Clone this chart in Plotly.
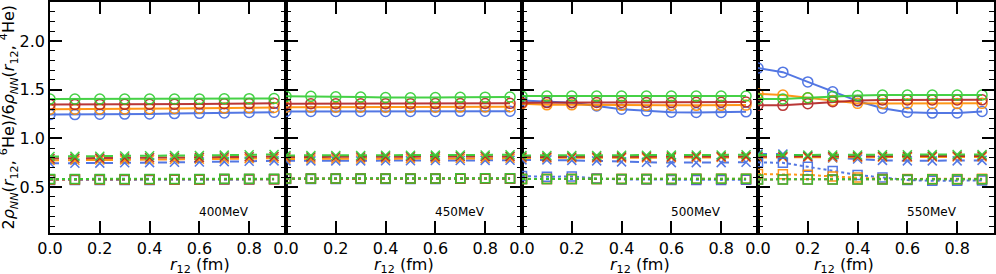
import plotly.graph_objects as go
from plotly.subplots import make_subplots

r12 = [0.0, 0.1, 0.2, 0.3, 0.4, 0.5, 0.6, 0.7, 0.8, 0.9]
energies = ["400MeV", "450MeV", "500MeV", "550MeV"]
colors = ["#4169E1", "#FF8C00", "#B22222", "#32CD32"]

# solid lines with circles, per energy: [blue, orange, red, green]
circ_400 = [
    [1.245, 1.245, 1.248, 1.25, 1.252, 1.255, 1.258, 1.262, 1.266, 1.27],
    [1.30, 1.30, 1.302, 1.303, 1.305, 1.307, 1.31, 1.312, 1.315, 1.318],
    [1.348, 1.348, 1.349, 1.35, 1.351, 1.352, 1.354, 1.356, 1.358, 1.36],
    [1.405, 1.405, 1.405, 1.405, 1.405, 1.405, 1.406, 1.407, 1.408, 1.41],
]
circ_450 = [
    [1.276, 1.276, 1.276, 1.276, 1.276, 1.276, 1.277, 1.278, 1.279, 1.28],
    [1.32, 1.32, 1.32, 1.32, 1.32, 1.32, 1.321, 1.322, 1.323, 1.325],
    [1.357, 1.357, 1.357, 1.357, 1.357, 1.357, 1.358, 1.358, 1.359, 1.36],
    [1.432, 1.432, 1.428, 1.425, 1.42, 1.418, 1.42, 1.422, 1.424, 1.425],
]
circ_500 = [
    [1.39, 1.375, 1.367, 1.333, 1.30, 1.283, 1.27, 1.267, 1.267, 1.273],
    [1.357, 1.345, 1.345, 1.342, 1.34, 1.34, 1.34, 1.34, 1.34, 1.342],
    [1.367, 1.368, 1.369, 1.37, 1.37, 1.37, 1.37, 1.371, 1.372, 1.373],
    [1.435, 1.435, 1.435, 1.435, 1.435, 1.435, 1.435, 1.435, 1.435, 1.436],
]
circ_550 = [
    [1.722, 1.68, 1.58, 1.479, 1.384, 1.31, 1.27, 1.26, 1.262, 1.276],
    [1.458, 1.445, 1.418, 1.39, 1.36, 1.358, 1.357, 1.357, 1.358, 1.36],
    [1.34, 1.34, 1.357, 1.377, 1.39, 1.394, 1.394, 1.395, 1.395, 1.396],
    [1.405, 1.405, 1.418, 1.43, 1.44, 1.445, 1.445, 1.445, 1.445, 1.446],
]

# dashed lines with crosses
cross_400 = [
    [0.745, 0.745, 0.747, 0.75, 0.752, 0.755, 0.758, 0.762, 0.766, 0.77],
    [0.775, 0.776, 0.778, 0.78, 0.782, 0.784, 0.787, 0.79, 0.793, 0.797],
    [0.795, 0.796, 0.798, 0.80, 0.802, 0.804, 0.806, 0.809, 0.812, 0.815],
    [0.815, 0.816, 0.818, 0.82, 0.822, 0.824, 0.826, 0.829, 0.832, 0.836],
]
cross_450 = [
    [0.77, 0.77, 0.77, 0.77, 0.771, 0.772, 0.773, 0.774, 0.775, 0.776],
    [0.79, 0.79, 0.79, 0.79, 0.791, 0.792, 0.793, 0.794, 0.795, 0.796],
    [0.81, 0.81, 0.81, 0.81, 0.811, 0.812, 0.813, 0.814, 0.815, 0.816],
    [0.826, 0.826, 0.826, 0.826, 0.827, 0.828, 0.829, 0.83, 0.831, 0.832],
]
cross_500 = [
    [0.78, 0.78, 0.775, 0.77, 0.76, 0.755, 0.752, 0.752, 0.752, 0.755],
    [0.80, 0.80, 0.80, 0.80, 0.80, 0.801, 0.802, 0.803, 0.804, 0.805],
    [0.81, 0.81, 0.81, 0.81, 0.811, 0.812, 0.813, 0.814, 0.815, 0.816],
    [0.826, 0.826, 0.826, 0.826, 0.827, 0.828, 0.829, 0.83, 0.831, 0.832],
]
cross_550 = [
    [0.84, 0.84, 0.82, 0.80, 0.79, 0.775, 0.77, 0.77, 0.77, 0.775],
    [0.805, 0.805, 0.805, 0.805, 0.806, 0.807, 0.808, 0.809, 0.81, 0.811],
    [0.815, 0.815, 0.815, 0.815, 0.816, 0.817, 0.818, 0.819, 0.82, 0.821],
    [0.83, 0.83, 0.83, 0.83, 0.831, 0.832, 0.833, 0.834, 0.835, 0.836],
]

# dotted lines with squares
square_400 = [
    [0.575, 0.575, 0.575, 0.575, 0.575, 0.576, 0.576, 0.577, 0.577, 0.578],
    [0.58, 0.58, 0.58, 0.58, 0.58, 0.58, 0.58, 0.581, 0.581, 0.582],
    [0.582, 0.582, 0.582, 0.582, 0.582, 0.582, 0.582, 0.583, 0.583, 0.584],
    [0.585, 0.585, 0.585, 0.585, 0.585, 0.585, 0.585, 0.586, 0.586, 0.587],
]
square_450 = [
    [0.585, 0.585, 0.585, 0.585, 0.585, 0.585, 0.585, 0.586, 0.586, 0.587],
    [0.587, 0.587, 0.587, 0.587, 0.587, 0.587, 0.587, 0.588, 0.588, 0.589],
    [0.588, 0.588, 0.588, 0.588, 0.588, 0.588, 0.588, 0.589, 0.589, 0.59],
    [0.59, 0.59, 0.59, 0.59, 0.59, 0.59, 0.59, 0.591, 0.591, 0.592],
]
square_500 = [
    [0.614, 0.607, 0.61, 0.59, 0.58, 0.578, 0.575, 0.575, 0.575, 0.577],
    [0.585, 0.585, 0.585, 0.585, 0.585, 0.585, 0.585, 0.586, 0.586, 0.587],
    [0.583, 0.583, 0.583, 0.583, 0.583, 0.583, 0.583, 0.584, 0.584, 0.585],
    [0.585, 0.585, 0.585, 0.585, 0.585, 0.585, 0.585, 0.586, 0.586, 0.587],
]
square_550 = [
    [0.755, 0.75, 0.71, 0.667, 0.624, 0.60, 0.573, 0.566, 0.566, 0.568],
    [0.635, 0.634, 0.627, 0.61, 0.60, 0.585, 0.585, 0.585, 0.585, 0.587],
    [0.58, 0.58, 0.58, 0.58, 0.58, 0.58, 0.58, 0.581, 0.581, 0.582],
    [0.58, 0.58, 0.58, 0.58, 0.58, 0.58, 0.58, 0.581, 0.581, 0.582],
]

panels = [
    (circ_400, cross_400, square_400),
    (circ_450, cross_450, square_450),
    (circ_500, cross_500, square_500),
    (circ_550, cross_550, square_550),
]

fig = make_subplots(rows=1, cols=4, shared_yaxes=True, horizontal_spacing=0)

styles = [
    ("solid", "circle-open", 10),
    ("dash", "x-thin-open", 9),
    ("dot", "square-open", 9),
]

for p, groups in enumerate(panels):
    for g, data in enumerate(groups):
        dash, sym, msize = styles[g]
        for c, ys in enumerate(data):
            fig.add_trace(go.Scatter(
                x=r12, y=ys, mode="lines+markers",
                line=dict(color=colors[c], width=2, dash=dash),
                marker=dict(symbol=sym, size=msize, color=colors[c],
                            line=dict(color=colors[c], width=1.5)),
                opacity=0.9, showlegend=False, cliponaxis=True,
            ), row=1, col=p + 1)

W, H = 996, 274
ml, mr, mt, mb = 50, 2, 0, 41
axis_font = dict(family="DejaVu Sans", size=16, color="black")

for i in range(4):
    xa = "xaxis" if i == 0 else f"xaxis{i+1}"
    ya = "yaxis" if i == 0 else f"yaxis{i+1}"
    fig.layout[xa].update(
        domain=[i / 4.0, (i + 1) / 4.0], range=[0, 0.948],
        tickvals=[0.0, 0.2, 0.4, 0.6, 0.8],
        ticktext=["0.0", "0.2", "0.4", "0.6", "0.8"],
        ticks="inside", ticklen=12, tickwidth=1.5, tickcolor="black",
        showline=True, linecolor="black", linewidth=1.5, mirror="allticks",
        showgrid=False, zeroline=False, tickfont=axis_font,
    )
    fig.layout[ya].update(
        range=[0.03, 2.4], tickvals=[0.5, 1.0, 1.5, 2.0],
        ticktext=["0.5", "1.0", "1.5", "2.0"],
        ticks="inside", ticklen=12, tickwidth=1.5, tickcolor="black",
        minor=dict(dtick=0.1, tick0=0, ticks="inside", ticklen=5,
                   tickwidth=1.2, tickcolor="black"),
        showline=True, linecolor="black", linewidth=1.5, mirror="allticks",
        showgrid=False, zeroline=False, tickfont=axis_font,
        showticklabels=(i == 0),
    )
    xr = "x" if i == 0 else f"x{i+1}"
    yr = "y" if i == 0 else f"y{i+1}"
    fig.add_annotation(x=0.7, y=0.25, xref=xr, yref=yr, text=energies[i],
                       showarrow=False, font=dict(family="DejaVu Sans", size=12, color="black"))
    fig.add_annotation(x=(i + 0.5) / 4.0, y=0, xref="paper", yref="paper",
                       text="<i>r</i><sub>12</sub> (fm)", showarrow=False,
                       yanchor="middle", yshift=-32,
                       font=dict(family="DejaVu Sans", size=16, color="black"))

fig.add_annotation(x=0, y=0.5, xref="paper", yref="paper", xshift=-41,
                   text="2<i>ρ</i><sub><i>NN</i></sub>(<i>r</i><sub>12</sub>, <sup>6</sup>He)/6<i>ρ</i><sub><i>NN</i></sub>(<i>r</i><sub>12</sub>, <sup>4</sup>He)",
                   textangle=-90, showarrow=False, xanchor="center", yanchor="middle",
                   font=dict(family="DejaVu Sans", size=16, color="black"))

fig.update_layout(
    width=W, height=H, margin=dict(l=ml, r=mr, t=mt, b=mb),
    paper_bgcolor="white", plot_bgcolor="white", showlegend=False,
)

fig.write_html("out.html", config={"displayModeBar": False},
               post_script="document.body.style.margin='0px';document.body.style.overflow='hidden';")
